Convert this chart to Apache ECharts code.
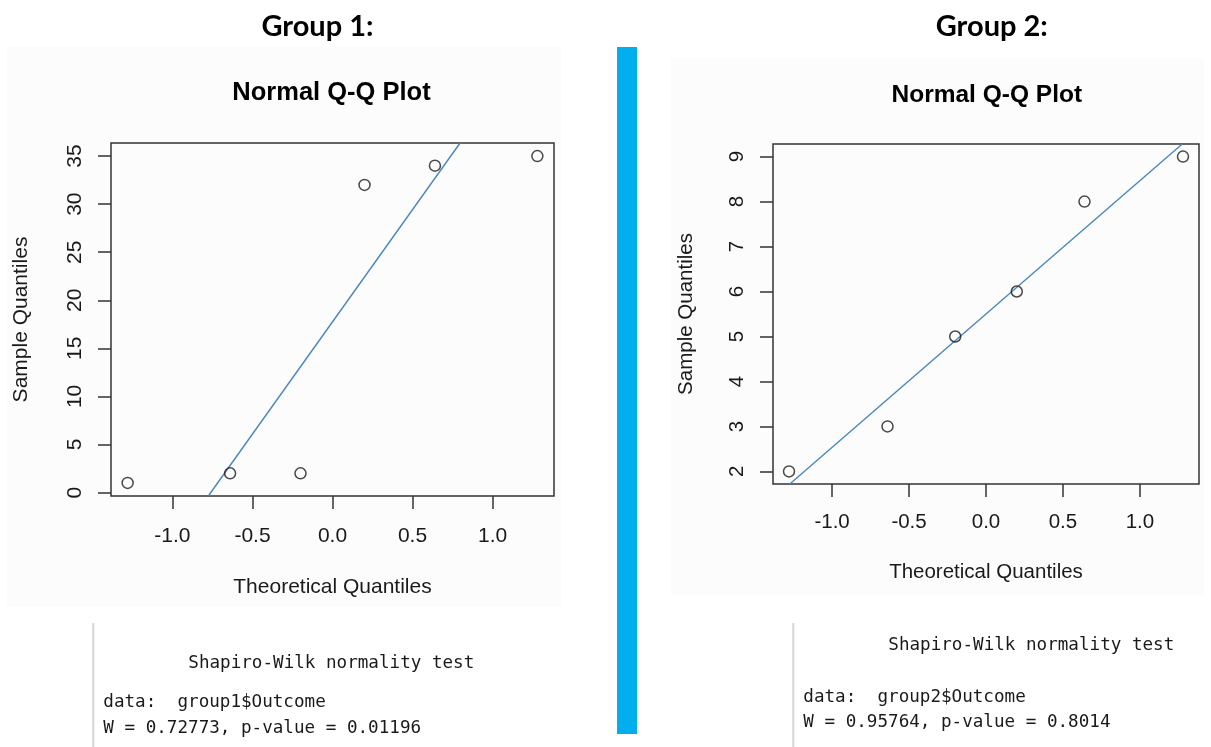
<!DOCTYPE html>
<html>
<head>
<meta charset="utf-8">
<script src="https://cdn.jsdelivr.net/npm/echarts@6/dist/echarts.min.js"></script>
<style>
  html, body { margin: 0; padding: 0; background: #fff; }
  #chart { width: 1211px; height: 747px; }
</style>
</head>
<body>
<div id="chart"></div>
<script>
// ---- data ----
const theoreticalQ = [-1.28, -0.64, -0.20, 0.20, 0.64, 1.28];
const group1Outcome = [1, 2, 2, 32, 34, 35];
const group2Outcome = [2, 3, 5, 6, 8, 9];
// reference (qq) line end points where it leaves the plot box
const line1X = [-0.776, 0.797];
const line1Y = [-0.36, 36.36];
const line2X = [-1.275, 1.275];
const line2Y = [1.72, 9.28];
// axis ranges and ticks
const xRange = [-1.384, 1.384];
const y1Range = [-0.36, 36.36];
const y2Range = [1.72, 9.28];
const xTicks = [-1.0, -0.5, 0.0, 0.5, 1.0];
const y1Ticks = [0, 5, 10, 15, 20, 25, 30, 35];
const y2Ticks = [2, 3, 4, 5, 6, 7, 8, 9];
// texts
const groupTitles = ['Group 1:', 'Group 2:'];
const plotTitle = 'Normal Q-Q Plot';
const xName = 'Theoretical Quantiles';
const yName = 'Sample Quantiles';
const test1Lines = ['Shapiro-Wilk normality test', 'data:  group1$Outcome', 'W = 0.72773, p-value = 0.01196'];
const test2Lines = ['Shapiro-Wilk normality test', 'data:  group2$Outcome', 'W = 0.95764, p-value = 0.8014'];

const PLOT_FONT = "'Liberation Sans', Arial, Helvetica, sans-serif";
const MONO = "'DejaVu Sans Mono', 'Liberation Mono', monospace";
const INK = '#1a1a1a';
const BOX = '#333';
const LINE = '#4a86bd';

function pts(xs, ys) { return xs.map((x, i) => [x, ys[i]]); }

function xAxisCfg(gridIndex, fs, labelMargin, nameGap) {
  return {
    type: 'value', gridIndex, min: xRange[0], max: xRange[1],
    axisLine: { show: false, onZero: false },
    splitLine: { show: false },
    axisTick: { show: true, length: 13, customValues: xTicks, lineStyle: { color: BOX, width: 1.5 } },
    axisLabel: { show: true, customValues: xTicks, margin: labelMargin, fontSize: fs, fontFamily: PLOT_FONT, color: INK,
      formatter: v => v.toFixed(1) },
    name: xName, nameLocation: 'middle', nameGap,
    nameTextStyle: { fontSize: fs, fontFamily: PLOT_FONT, color: INK }
  };
}
function yAxisCfg(gridIndex, range, ticks, fs, labelMargin, nameGap) {
  return {
    type: 'value', gridIndex, min: range[0], max: range[1],
    axisLine: { show: false, onZero: false },
    splitLine: { show: false },
    axisTick: { show: true, length: 13, customValues: ticks, lineStyle: { color: BOX, width: 1.5 } },
    axisLabel: { show: true, customValues: ticks, rotate: 90, margin: labelMargin, fontSize: fs, fontFamily: PLOT_FONT, color: INK,
      formatter: v => String(v) },
    name: yName, nameLocation: 'middle', nameGap, nameRotate: 90,
    nameTextStyle: { fontSize: fs, fontFamily: PLOT_FONT, color: INK }
  };
}

function testBlock(x, borderTop, lines, ys) {
  const children = [{
    type: 'line', shape: { x1: x, y1: borderTop, x2: x, y2: 747 },
    style: { stroke: '#d6d6d6', lineWidth: 2 }
  }];
  lines.forEach((t, i) => {
    children.push({
      type: 'text', x: i === 0 ? x + 95 : x + 10, y: ys[i],
      style: { text: t, font: '17.6px ' + MONO, fill: INK, textVerticalAlign: 'middle', textAlign: 'left' }
    });
  });
  return children;
}

const pointStyle = { color: 'rgba(0,0,0,0)', borderColor: INK, borderWidth: 1.5 };

const chart = echarts.init(document.getElementById('chart'), null, { renderer: 'canvas' });
const option = {
  backgroundColor: '#ffffff',
  animation: false,
  grid: [
    { left: 111, top: 143, width: 443, height: 353, show: true, borderColor: BOX, borderWidth: 1.5, backgroundColor: 'transparent' },
    { left: 773, top: 144, width: 426, height: 340, show: true, borderColor: BOX, borderWidth: 1.5, backgroundColor: 'transparent' }
  ],
  xAxis: [ xAxisCfg(0, 21, 30, 81), xAxisCfg(1, 20.5, 28, 78) ],
  yAxis: [ yAxisCfg(0, y1Range, y1Ticks, 21, 25, 79), yAxisCfg(1, y2Range, y2Ticks, 20.5, 25, 76) ],
  series: [
    { type: 'line', xAxisIndex: 0, yAxisIndex: 0, data: pts(line1X, line1Y), symbol: 'none', clip: true,
      lineStyle: { color: LINE, width: 1.4 }, z: 2 },
    { type: 'scatter', xAxisIndex: 0, yAxisIndex: 0, data: pts(theoreticalQ, group1Outcome), symbol: 'circle', symbolSize: 11,
      itemStyle: pointStyle, z: 3 },
    { type: 'line', xAxisIndex: 1, yAxisIndex: 1, data: pts(line2X, line2Y), symbol: 'none', clip: true,
      lineStyle: { color: LINE, width: 1.4 }, z: 2 },
    { type: 'scatter', xAxisIndex: 1, yAxisIndex: 1, data: pts(theoreticalQ, group2Outcome), symbol: 'circle', symbolSize: 11,
      itemStyle: pointStyle, z: 3 }
  ],
  graphic: [
    // faint screenshot panels
    { type: 'rect', z: -10, shape: { x: 7, y: 47, width: 554, height: 560 }, style: { fill: '#fcfcfc' } },
    { type: 'rect', z: -10, shape: { x: 671, y: 58, width: 533, height: 537 }, style: { fill: '#fcfcfc' } },
    // divider bar
    { type: 'rect', shape: { x: 617, y: 47, width: 20, height: 687 }, style: { fill: '#03aeef' } },
    // group titles
    { type: 'text', x: 317.5, y: 27, style: { text: groupTitles[0], font: 'bold 29px Lato, "Open Sans", sans-serif', fill: '#000', textAlign: 'center', textVerticalAlign: 'middle' } },
    { type: 'text', x: 991.8, y: 27, style: { text: groupTitles[1], font: 'bold 29px Lato, "Open Sans", sans-serif', fill: '#000', textAlign: 'center', textVerticalAlign: 'middle' } },
    // plot titles
    { type: 'text', x: 331.5, y: 93, style: { text: plotTitle, font: 'bold 25.5px ' + PLOT_FONT, fill: '#000', textAlign: 'center', textVerticalAlign: 'middle' } },
    { type: 'text', x: 986.8, y: 95, style: { text: plotTitle, font: 'bold 24.5px ' + PLOT_FONT, fill: '#000', textAlign: 'center', textVerticalAlign: 'middle' } },
    // test outputs
    ...testBlock(93.3, 623, test1Lines, [663.3, 702.7, 728.5]),
    ...testBlock(793.3, 623, test2Lines, [645, 697.3, 722.7])
  ]
};
chart.setOption(option);
</script>
</body>
</html>
